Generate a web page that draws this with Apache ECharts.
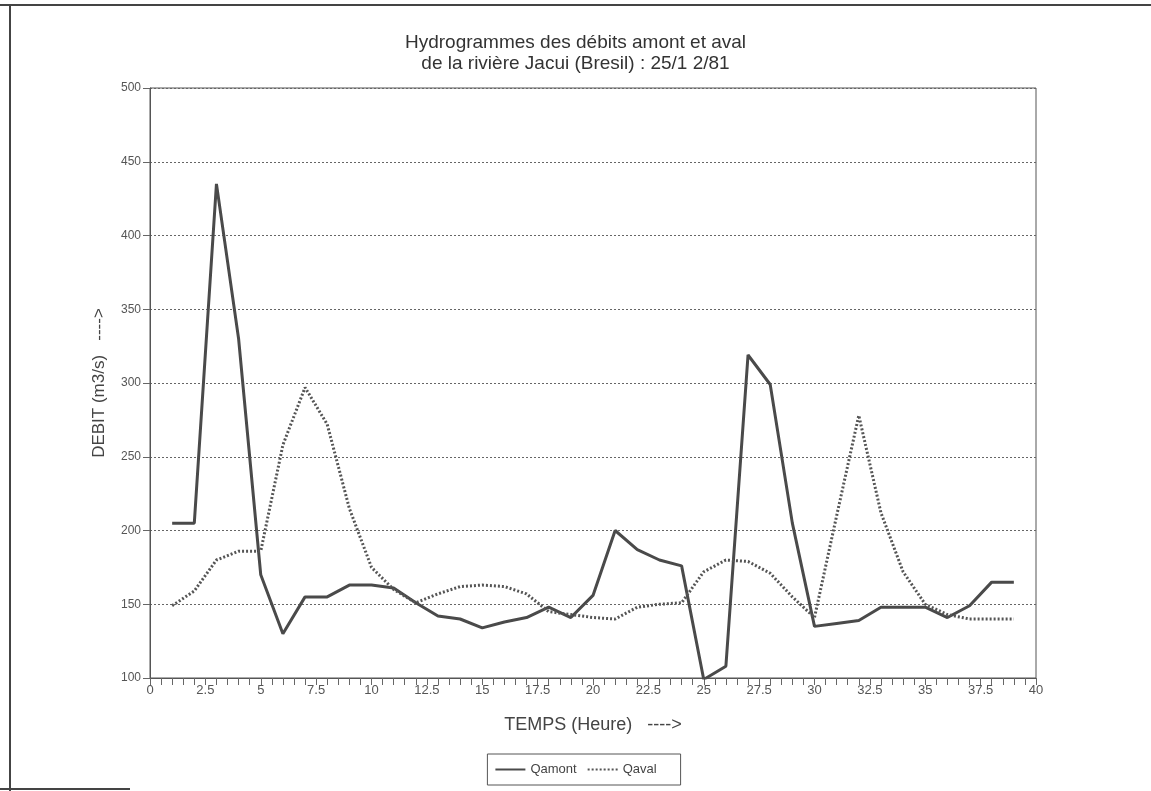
<!DOCTYPE html>
<html>
<head>
<meta charset="utf-8">
<script src="https://cdn.jsdelivr.net/npm/echarts@6/dist/echarts.min.js"></script>
<style>
html,body{margin:0;padding:0;background:#fff;}
#chart{width:1151px;height:791px;}
</style>
</head>
<body>
<div id="chart"></div>
<script>
// ---- data ----
var hours = [1,2,3,4,5,6,7,8,9,10,11,12,13,14,15,16,17,18,19,20,21,22,23,24,25,26,27,28,29,30,31,32,33,34,35,36,37,38,39];
var qamont = [205,205,435,330,170,130,155,155,163,163,161,151,142,140,134,138,141,148,141,156,200,187,180,176,99,108,319,299,205,135,137,139,148,148,148,141,149,165,165];
var qaval  = [149,159,180,186,186,258,297,272,215,175,160,151,157,162,163,162,157,145,143,141,140,148,150,151,172,180,179,171,155,141,210,278,212,172,150,143,140,140,140];
var titleLines = ['Hydrogrammes des débits amont et aval', 'de la rivière Jacui (Bresil) : 25/1 2/81'];
var xName = 'TEMPS (Heure)   ---->';
var yName = 'DEBIT (m3/s)   ---->';
var seriesNames = ['Qamont', 'Qaval'];

function pairs(xs, ys){ return xs.map(function(x,i){ return [x, ys[i]]; }); }

var ink = '#4a4a4a';
var font = "'Liberation Sans', Arial, sans-serif";
var narrow = "'Liberation Sans Narrow', 'Liberation Sans', Arial, sans-serif";

var chart = echarts.init(document.getElementById('chart'), null, {renderer:'canvas'});
chart.setOption({
  backgroundColor: '#ffffff',
  animation: false,
  title: {
    text: titleLines.join('\n'),
    left: 'center',
    top: 27,
    textStyle: { fontFamily: font, fontSize: 19, fontWeight: 'normal', color: '#333', lineHeight: 21 }
  },
  graphic: [
    { type:'line', shape:{x1:0,y1:5,x2:1151,y2:5}, style:{stroke:'#444', lineWidth:2} },
    { type:'line', shape:{x1:10,y1:5,x2:10,y2:791}, style:{stroke:'#444', lineWidth:2} },
    { type:'line', shape:{x1:0,y1:789,x2:130,y2:789}, style:{stroke:'#444', lineWidth:2} }
  ],
  legend: {
    data: seriesNames,
    left: 'center', top: 754,
    padding: [9, 24, 9, 7],
    borderColor: '#555', borderWidth: 1,
    itemWidth: 30, itemHeight: 10, itemGap: 10,
    itemStyle: { opacity: 0 },
    textStyle: { fontFamily: font, fontSize: 13, color: '#444' }
  },
  grid: { left: 150, right: 115, top: 88, bottom: 113, show: true, borderColor: '#555', borderWidth: 1 },
  xAxis: {
    type: 'value', min: 0, max: 40, interval: 2.5,
    name: xName, nameLocation: 'middle', nameGap: 38,
    nameTextStyle: { fontFamily: narrow, fontSize: 18, color: '#444' },
    axisLine: { lineStyle: { color: '#555', width: 1 } },
    axisTick: { show: true, length: 7, lineStyle: { color: '#666' } },
    minorTick: { show: true, splitNumber: 5, length: 7, lineStyle: { color: '#666' } },
    axisLabel: { fontFamily: narrow, fontSize: 13, color: '#555', margin: 6 },
    splitLine: { show: false }
  },
  yAxis: {
    type: 'value', min: 100, max: 500, interval: 50,
    name: yName, nameLocation: 'middle', nameGap: 42,
    nameTextStyle: { fontFamily: narrow, fontSize: 17, color: '#444' },
    axisLine: { show: true, lineStyle: { color: '#555', width: 1 } },
    axisTick: { show: true, length: 7, lineStyle: { color: '#666' } },
    axisLabel: { fontFamily: font, fontSize: 12, color: '#555', margin: 9 },
    splitLine: { show: true, lineStyle: { color: '#666', width: 1, type: [2, 2] } }
  },
  series: [
    { name: seriesNames[0], type: 'line', data: pairs(hours, qamont), showSymbol: false, symbol: 'none',
      lineStyle: { color: ink, width: 3 }, itemStyle: { color: ink } },
    { name: seriesNames[1], type: 'line', data: pairs(hours, qaval), showSymbol: false, symbol: 'none',
      lineStyle: { color: '#555', width: 3, type: [2, 2] }, itemStyle: { color: '#555' } }
  ]
});
</script>
</body>
</html>
